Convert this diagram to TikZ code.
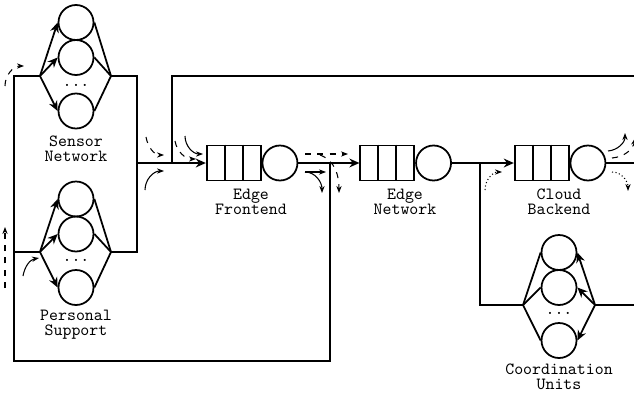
\documentclass[tikz,border=0pt]{standalone}
\usepackage{fontspec}
\usetikzlibrary{arrows.meta,positioning}
\tikzset{>={Stealth[length=5.7pt,width=5pt]}}
\tikzset{%
    server/.style={circle,draw,line width=1pt,minimum size=0.7cm,inner sep=0pt},
    buffer/.style={rectangle,draw,line width=1pt,minimum width=1.08cm,minimum height=0.7cm,inner sep=0pt},
    txt/.style={align=center,font=\ttfamily\fontsize{9.7}{8.6}\selectfont,inner sep=0pt},
    hint/.style={->,line width=0.6pt,>={Stealth[length=4pt,width=3pt]}},
    dashhint/.style={hint,dash pattern=on 3.5pt off 3.5pt},
    dothint/.style={hint,dash pattern=on 0.6pt off 1.4pt}
}

\begin{document}
\begin{tikzpicture}[x=0.02cm,y=-0.02cm,line width=1pt]
\useasboundingbox (0,0) rectangle (634,392);

% sensor network
\node[server] (sn1) at (76,22.5) {};
\node[server] (sn2) at (76,57.5) {};
\node[server] (sn3) at (76,111) {};
\node[txt,anchor=base] (snd) at (76,86) {...};
\node[txt] (snt) at (76,149) {Sensor\\Network};
\coordinate (snL) at (40,76);
\coordinate (snR) at (111,76);

% personal support
\node[server] (ps1) at (76,199) {};
\node[server] (ps2) at (76,234) {};
\node[server] (ps3) at (76,287.5) {};
\node[txt,anchor=base] (psd) at (76,261) {...};
\node[txt] (pst) at (76,325) {Personal\\Support};
\coordinate (psL) at (40,252);
\coordinate (psR) at (111,252);

% queues
\node[buffer] (feq) at (233.7,163) {};
\node[server,right=0pt of feq] (fes) {};
\node[txt] (fet) at (251,202) {Edge\\Frontend};
\node[buffer] (enq) at (387.3,163) {};
\node[server,right=0pt of enq] (ens) {};
\node[txt] (ent) at (405,202) {Edge\\Network};
\node[buffer] (cbq) at (541.7,163) {};
\node[server,right=0pt of cbq] (cbs) {};
\node[txt] (cbt) at (559,202) {Cloud\\Backend};
\foreach \q in {feq,enq,cbq}
  \foreach \s in {-0.18,0.18}
    \draw ([xshift=\s cm]\q.north) -- ([xshift=\s cm]\q.south);

% coordination units
\node[server] (cu1) at (559,252.5) {};
\node[server] (cu2) at (559,287.5) {};
\node[server] (cu3) at (559,340.5) {};
\node[txt,anchor=base] (cud) at (559,314) {...};
\node[txt] (cut) at (559,377) {Coordination\\Units};
\coordinate (cuL) at (523,305);
\coordinate (cuR) at (595,305);

% junctions
\coordinate (tl) at (14,76);
\coordinate (ml) at (14,252);
\coordinate (bl) at (14,361);
\coordinate (br) at (330,361);
\coordinate (snO) at (137,76);
\coordinate (psO) at (137,252);
\coordinate (j1) at (137,163);
\coordinate (j2) at (172,163);
\coordinate (tt) at (172,76);
\coordinate (te) at (640,76);
\coordinate (j3) at (330,163);
\coordinate (j4) at (480,163);
\coordinate (cu) at (480,305);
\coordinate (oe) at (640,163);
\coordinate (cuE) at (640,305);

% forks
\foreach \n in {sn,ps} {
  \draw[->] (\n L) -- (\n 1.west);
  \draw[->] (\n L) -- (\n 2.west);
  \draw[->] (\n L) -- (\n 3.west);
  \draw (\n 1.east) -- (\n R);
  \draw (\n 2.east) -- (\n R);
  \draw (\n 3.east) -- (\n R);
}
\draw (cuL) -- (cu1.west);
\draw (cuL) -- (cu2.west);
\draw (cuL) -- (cu3.west);
\draw[->] (cuR) -- (cu1.east);
\draw[->] (cuR) -- (cu2.east);
\draw[->] (cuR) -- (cu3.east);

% links
\draw (snL) -- (tl) -- (bl) -- (br) -- (j3);
\draw (psL) -- (ml);
\draw (snR) -- (snO) -- (psO) -- (psR);
\draw[->] (j1) -- (feq);
\draw (te) -- (tt) -- (j2);
\draw[->] (fes) -- (enq);
\draw[->] (ens) -- (cbq);
\draw (j4) -- (cu) -- (cuL);
\draw (cbs) -- (oe);
\draw (cuR) -- (cuE);

% flow hints
\draw[dashhint] (5,86) to[out=90,in=180] (24,66);
\draw[dashhint] (5,288) -- (5,227);
\draw[hint] (23,276) to[out=80,in=190] (39,258);
\draw[dashhint] (146,137) to[out=-80,in=180] (164,155);
\draw[hint] (145,190) to[out=90,in=180] (164,171);
\draw[dashhint] (175,141) to[out=-80,in=180] (196,159);
\draw[hint] (185,136) to[out=-90,in=180] (203,154);
\draw[dashhint] (305,154) -- (348,154);
\draw[dashhint] (320,155) to[out=-20,in=90] (339,193);
\draw[hint] (305,172) -- (326,172);
\draw[hint] (305,172) to[out=0,in=90] (322,193);
\draw[dothint] (485,190) to[out=90,in=180] (502,172);
\draw[hint] (608,151) to[out=5,in=-90] (625,133);
\draw[dashhint] (612,158) to[out=5,in=-100] (635,138);
\draw[dothint] (612,172) to[out=0,in=90] (628,191);
\end{tikzpicture}
\end{document}
